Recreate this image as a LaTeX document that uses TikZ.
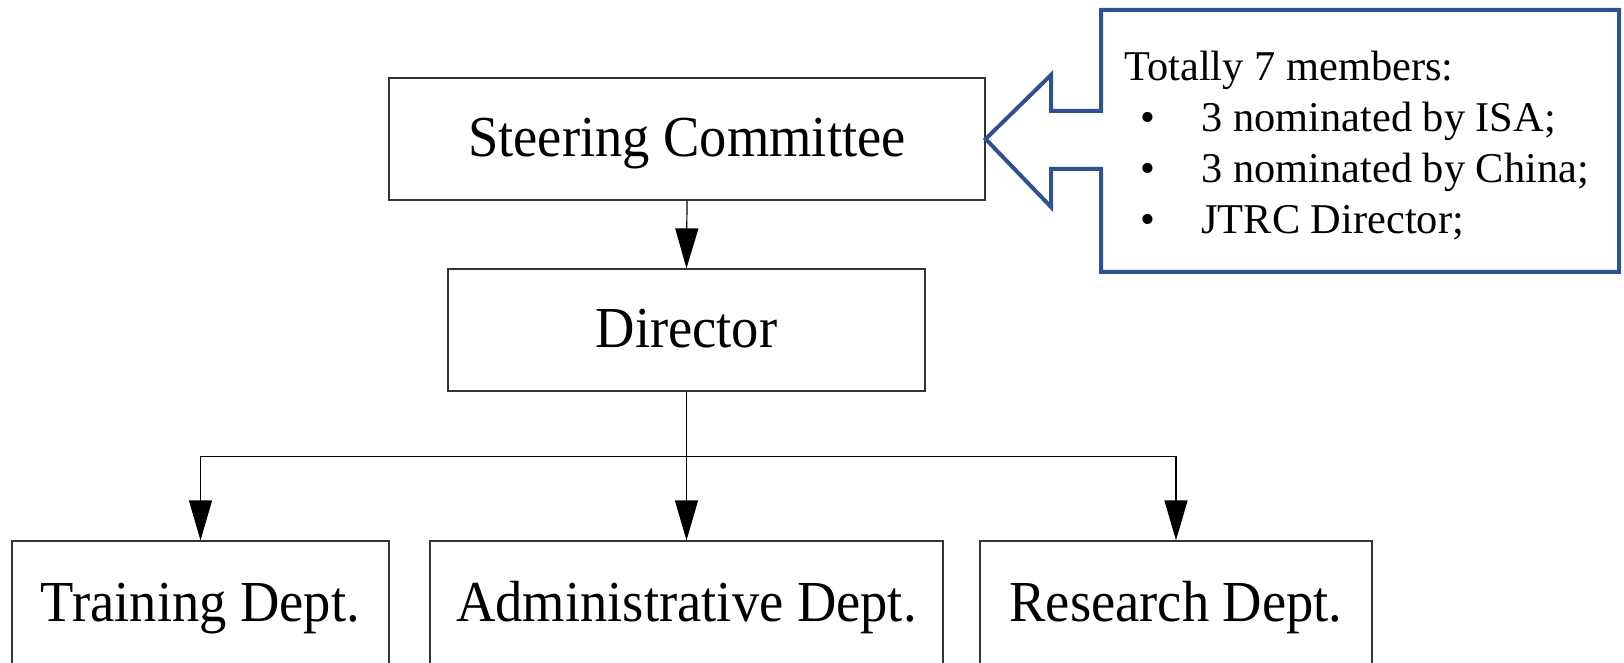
\documentclass[tikz,border=0pt]{standalone}
\usepackage{fontspec}
\setmainfont{Liberation Serif}
\newfontfamily\boxfont[FakeStretch=0.94]{Liberation Serif}
\usetikzlibrary{arrows.meta}
\definecolor{calloutblue}{HTML}{2F528F}
\begin{document}
\begin{tikzpicture}[x=0.5pt,y=-0.5pt,
  box/.style={draw=black!80, line width=0.6pt, inner sep=0pt, text height=20pt, text depth=2pt,
    font=\boxfont\fontsize{29}{34}\selectfont},
  link/.style={draw=black, line width=0.6pt},
  conn/.style={link, -{Triangle[length=20pt,width=11.5pt]}},
  notetext/.style={font=\fontsize{21.2}{26}\selectfont, inner sep=0pt, anchor=base west},
]
\useasboundingbox (0,0) rectangle (1624,663);
% boxes
\node[box, minimum width=298pt, minimum height=61pt] (steer) at (687,139) {Steering Committee};
\node[box, minimum width=238.5pt, minimum height=61pt] (dir) at (686.5,330) {Director};
\node[box, minimum width=188.5pt, minimum height=62pt] (train) at (200.5,603) {Training Dept.};
\node[box, minimum width=256.5pt, minimum height=62pt] (admin) at (686.5,603) {Administrative Dept.};
\node[box, minimum width=196pt, minimum height=62pt] (res) at (1176,603) {Research Dept.};
% connectors
\draw[conn] (steer.south) -- (dir.north);
\draw[link] (dir.south) -- ++(0,65) coordinate (split);
\draw[conn] (split) -| (train.north);
\draw[conn] (split) -- (admin.north);
\draw[conn] (split) -| (res.north);
% callout
\draw[calloutblue, line width=2pt, line join=miter, fill=white]
  (1101,10) -- (1619,10) -- (1619,272) -- (1101,272) -- (1101,169) -- (1051,169)
  -- (1051,207) -- (steer.east) -- (1051,75) -- (1051,111) -- (1101,111) -- cycle;
\node[notetext] (t0) at (1124,81) {Totally 7 members:};
\node[notetext] (b1) at (1140,131.5) {•};
\node[notetext] (t1) at (1201,131.5) {3 nominated by ISA;};
\node[notetext] (b2) at (1140,182.5) {•};
\node[notetext] (t2) at (1201,182.5) {3 nominated by China;};
\node[notetext] (b3) at (1140,234) {•};
\node[notetext] (t3) at (1201,234) {JTRC Director;};
\end{tikzpicture}
\end{document}
